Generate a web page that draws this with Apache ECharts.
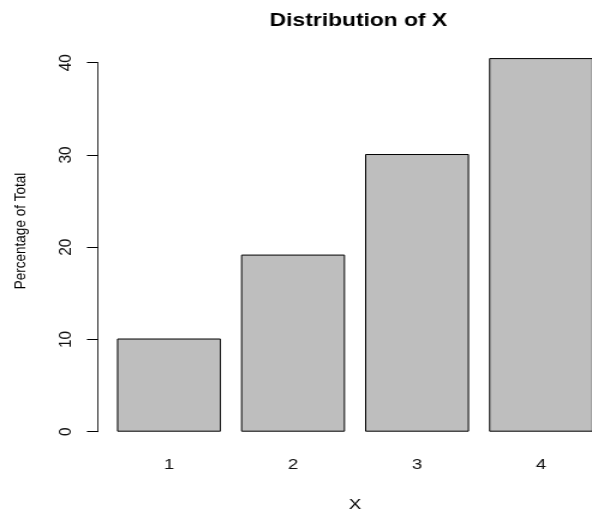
<!DOCTYPE html>
<html>
<head>
<meta charset="utf-8">
<script src="https://cdn.jsdelivr.net/npm/echarts@6/dist/echarts.min.js"></script>
<style>
  html, body { margin: 0; padding: 0; background: #fff; overflow: hidden; }
  /* the plot is laid out on a narrower canvas and widened horizontally */
  #chart { width: 493px; height: 512px; transform: scaleX(1.2008); transform-origin: 0 0; }
</style>
</head>
<body>
<div id="chart"></div>
<script>
// Data
const categories = ['1', '2', '3', '4'];
const percentages = [10.1, 19.2, 30.1, 40.5];
const yMin = 0;
const yMax = 40;
const yStep = 10;

// Text
const titleText = 'Distribution of X';
const xName = 'X';
const yName = 'Percentage of Total';

const font = '"Liberation Sans", Arial, Helvetica, sans-serif';
const chart = echarts.init(document.getElementById('chart'), null, { renderer: 'canvas' });

chart.setOption({
  animation: false,
  backgroundColor: '#ffffff',
  title: {
    text: titleText,
    left: 293.5,
    top: 6,
    textAlign: 'center',
    textStyle: { fontFamily: font, fontWeight: 'bold', fontSize: 19, color: '#000' }
  },
  grid: {
    left: 89.1,
    top: 62.7,
    width: 413.1,
    height: 369,
    containLabel: false,
    outerBoundsMode: 'none'
  },
  xAxis: {
    type: 'category',
    data: categories,
    name: xName,
    nameLocation: 'middle',
    nameGap: 65,
    nameTextStyle: { fontFamily: font, fontSize: 15.5, color: '#000' },
    axisLine: { show: false },
    axisTick: { show: false },
    axisLabel: { margin: 25, fontFamily: font, fontSize: 15.5, color: '#111' }
  },
  yAxis: {
    type: 'value',
    min: yMin,
    max: yMax,
    interval: yStep,
    offset: 7.5,
    axisLine: { show: true, lineStyle: { color: '#333', width: 1 } },
    axisTick: { show: true, length: 9.2, lineStyle: { color: '#000', width: 1 } },
    axisLabel: { rotate: 90, margin: 19, fontFamily: font, fontSize: 15.5, color: '#111' },
    splitLine: { show: false }
  },
  series: [{
    type: 'bar',
    data: percentages,
    barWidth: 86.6,
    clip: false,
    itemStyle: { color: '#bebebe', borderColor: '#000', borderWidth: 1 }
  }],
  graphic: [{
    type: 'text',
    x: 17,
    y: 231,
    rotation: Math.PI / 2,
    style: {
      text: yName,
      fontFamily: font,
      fontSize: 13.5,
      fill: '#000',
      align: 'center',
      verticalAlign: 'middle'
    }
  }]
});
</script>
</body>
</html>
